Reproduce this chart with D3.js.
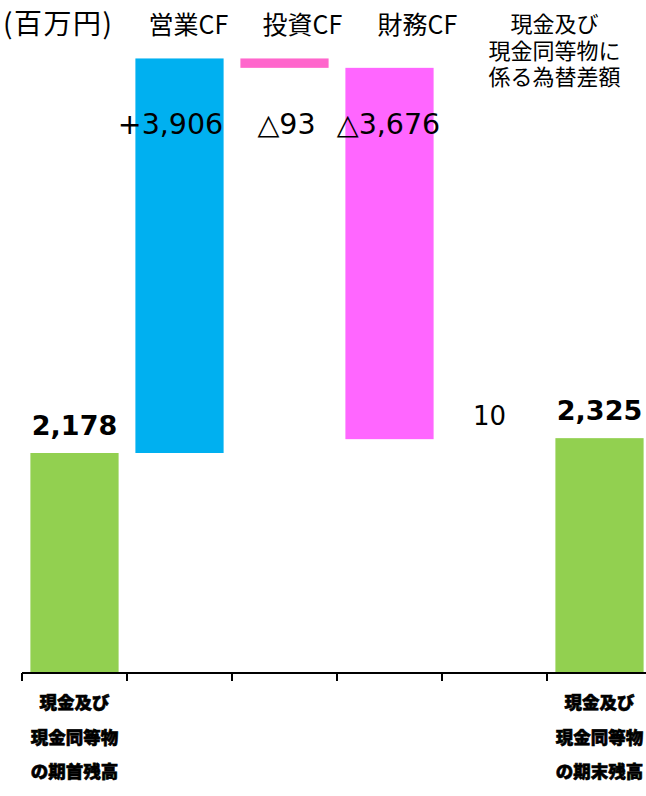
<!DOCTYPE html>
<html><head><meta charset="utf-8">
<script src="https://cdn.jsdelivr.net/npm/d3@7"></script>
<style>
html,body{margin:0;padding:0;background:#fff;}
svg{display:block;}
</style></head>
<body>
<svg id="chart" width="646" height="796"></svg>
<script>
// ---- data ----
const categories = ["期首", "営業CF", "投資CF", "財務CF", "為替差額", "期末"];
const values = [2178, 3906, -93, -3676, 10, 2325];
const kinds = ["total", "delta", "delta", "delta", "delta", "total"];
const valueLabels = ["2,178", "+3,906", "△93", "△3,676", "10", "2,325"];
const colors = ["#92D050", "#00B0F0", "#FF66CC", "#FF66FF", "#FFFFFF", "#92D050"];
const headerLabels = ["営業CF", "投資CF", "財務CF"];
const fxHeaderLines = ["現金及び", "現金同等物に", "係る為替差額"];
const startLabelLines = ["現金及び", "現金同等物", "の期首残高"];
const endLabelLines = ["現金及び", "現金同等物", "の期末残高"];
const unitLabel = "(百万円)";

// ---- layout ----
const W = 646, H = 796;
const baseY = 673;
const svg = d3.select("#chart");

const x = d3.scaleBand().domain(categories).range([22, 652]).paddingInner(0.16).paddingOuter(0.08);
const y = d3.scaleLinear().domain([0, 6000]).range([baseY, baseY - 6000 * 220 / 2178]);

// waterfall
let run = 0;
const bars = categories.map((c, i) => {
  let y0, y1;
  if (kinds[i] === "total") { y0 = 0; y1 = values[i]; run = values[i]; }
  else { y0 = run; y1 = run + values[i]; run = y1; }
  return {cat: c, lo: Math.min(y0, y1), hi: Math.max(y0, y1), color: colors[i], label: valueLabels[i], kind: kinds[i], i};
});

svg.append("g").selectAll("rect").data(bars).join("rect")
  .attr("x", d => x(d.cat))
  .attr("width", x.bandwidth())
  .attr("y", d => y(d.hi))
  .attr("height", d => Math.max(0, y(d.lo) - y(d.hi)))
  .attr("fill", d => d.color);

// axis
const axisG = svg.append("g");
axisG.append("line").attr("x1", x.range()[0]).attr("x2", x.range()[1])
  .attr("y1", baseY).attr("y2", baseY).attr("stroke", "#000").attr("stroke-width", 2.2);
const bounds = d3.range(categories.length + 1).map(i => x.range()[0] + i * x.step());
axisG.selectAll(".tk").data(bounds).join("line")
  .attr("x1", d => d).attr("x2", d => d).attr("y1", baseY).attr("y2", baseY + 8)
  .attr("stroke", "#000").attr("stroke-width", 2);

const cx = c => x(c) + x.bandwidth() / 2;
const jp = "'Noto Sans CJK JP', 'Noto Sans', sans-serif";
const num = "'DejaVu Sans', Verdana, sans-serif";

// value labels
bars.forEach(d => {
  if (d.kind === "total") {
    svg.append("text").attr("x", cx(d.cat)).attr("y", y(d.hi) - 18)
      .attr("text-anchor", "middle").attr("font-family", num).attr("font-weight", "bold")
      .attr("font-size", 27).attr("fill", "#000").text(d.label);
  } else if (d.i === 4) {
    svg.append("text").attr("x", cx(d.cat) - 5).attr("y", 425)
      .attr("text-anchor", "middle").attr("font-family", num)
      .attr("font-size", 26).attr("fill", "#000").text(d.label);
  } else {
    svg.append("text").attr("x", cx(d.cat) - (d.i === 1 ? 9 : (d.i === 2 ? -2 : 1))).attr("y", 134)
      .attr("text-anchor", "middle").attr("font-family", num)
      .attr("font-size", 28.5).attr("fill", "#000").text(d.label);
  }
});

// headers
svg.append("text").attr("x", 3).attr("y", 34).attr("font-family", jp)
  .attr("font-size", 28).attr("letter-spacing", 1.5).attr("fill", "#000").text(unitLabel);
const headerOffsets = [9, 18, 28];
headerLabels.forEach((t, k) => {
  svg.append("text").attr("x", cx(categories[k + 1]) + headerOffsets[k]).attr("y", 34)
    .attr("text-anchor", "middle").attr("font-family", jp).attr("font-size", 25)
    .attr("fill", "#000").text(t);
});
fxHeaderLines.forEach((t, k) => {
  svg.append("text").attr("x", cx(categories[4]) + 60).attr("y", 32 + k * 26.5)
    .attr("text-anchor", "middle").attr("font-family", jp).attr("font-size", 22)
    .attr("fill", "#000").text(t);
});

// bottom labels
[[categories[0], startLabelLines], [categories[5], endLabelLines]].forEach(([c, lines]) => {
  lines.forEach((t, k) => {
    svg.append("text").attr("x", cx(c)).attr("y", 709 + k * 34.5)
      .attr("text-anchor", "middle").attr("font-family", jp).attr("font-weight", 900)
      .attr("font-size", 17.5).attr("fill", "#000").attr("stroke", "#000").attr("stroke-width", 0.6)
      .text(t);
  });
});
</script>
</body></html>
